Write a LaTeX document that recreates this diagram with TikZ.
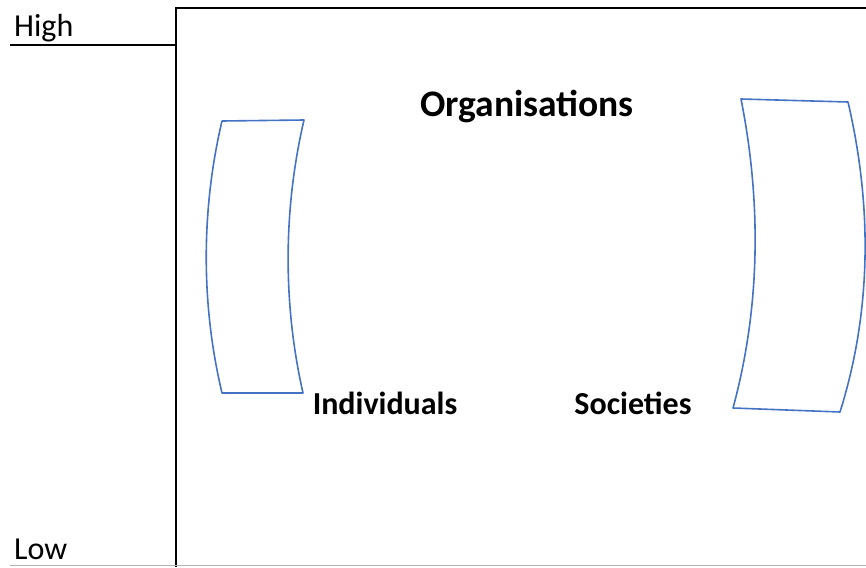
\documentclass[tikz,border=0pt]{standalone}
\usepackage{fontspec}
\setmainfont{Carlito}
\begin{document}
\begin{tikzpicture}[x=1pt,y=-1pt,
    axis/.style={line width=1.8pt},
    lens/.style={draw=lensblue,line width=1.6pt,line join=round},
    lab/.style={inner sep=0pt,font=\fontsize{32}{36}\selectfont},
    grp/.style={inner sep=0pt,font=\fontsize{32}{36}\selectfont\bfseries}]
  \definecolor{lensblue}{RGB}{68,114,196}
  \useasboundingbox (0,0) rectangle (866,567);
  % axis and frame
  \draw[axis] (176,567) -- (176,8) -- (866,8);
  \draw[axis] (10,45) -- (176,45);
  \draw[gray!60,line width=1.2pt] (10,565.5) -- (866,565.5);
  \node[lab,anchor=west] (high) at (14,28) {High};
  \node[lab,anchor=west] (low) at (14,549) {Low};
  % groups
  \node[grp,font=\fontsize{37.5}{40}\selectfont\bfseries] (org) at (527,106) {Organisations};
  \node[grp] (ind) at (385,403) {Individuals};
  \node[grp] (soc) at (633,403) {Societies};
  \begin{scope}
    \draw[lens] (222,121) -- (304,120)
      .. controls (283,210) and (283,305) .. (303,393) -- (222,393)
      .. controls (201,305) and (201,210) .. (222,121) -- cycle;
    \draw[lens] (741,99) -- (848,102)
      .. controls (872,205) and (872,310) .. (840,412) -- (733,408)
      .. controls (761,305) and (761,200) .. (741,99) -- cycle;
  \end{scope}
\end{tikzpicture}
\end{document}
